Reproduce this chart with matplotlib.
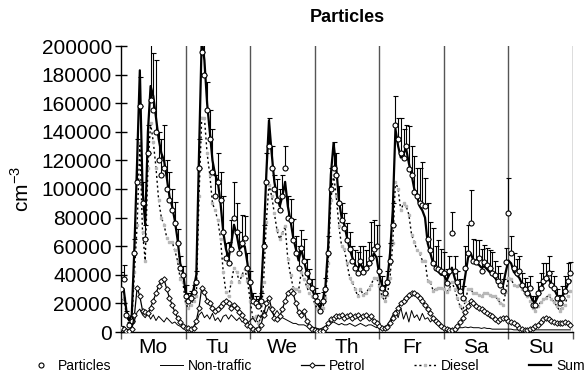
import matplotlib.pyplot as plt
import numpy as np

plt.rcParams['font.family'] = ['Liberation Sans', 'DejaVu Sans']

days = ['Mo', 'Tu', 'We', 'Th', 'Fr', 'Sa', 'Su']

# hourly values, one row per day (cm-3)
particles = [
    [30000, 37000, 12000, 5000, 8000, 55000, 105000, 158000, 90000, 65000, 125000, 162000, 155000, 140000, 120000, 110000, 115000, 100000, 92000, 85000, 76000, 62000, 45000, 40000],
    [25000, 22000, 24000, 28000, 35000, 115000, 196000, 180000, 155000, 135000, 112000, 95000, 105000, 92000, 70000, 52000, 48000, 58000, 80000, 70000, 55000, 62000, 66000, 45000],
    [35000, 22000, 20000, 18000, 22000, 60000, 105000, 130000, 115000, 100000, 92000, 85000, 95000, 115000, 80000, 78000, 64000, 55000, 45000, 59000, 50000, 41000, 36000, 31000],
    [25000, 22000, 15000, 22000, 30000, 55000, 100000, 115000, 110000, 90000, 78000, 73000, 64000, 58000, 50000, 45000, 41000, 50000, 42000, 45000, 48000, 52000, 58000, 60000],
    [43000, 31000, 27000, 35000, 50000, 75000, 145000, 135000, 125000, 122000, 130000, 114000, 110000, 98000, 95000, 90000, 89000, 88000, 65000, 57000, 48000, 45000, 44000, 43000],
    [41000, 34000, 43000, 69000, 43000, 35000, 29000, 24000, 45000, 55000, 76000, 50000, 49000, 52000, 43000, 49000, 47000, 45000, 41000, 40000, 36000, 33000, 29000, 49000],
    [83000, 55000, 45000, 41000, 43000, 33000, 30000, 27000, 31000, 19000, 19000, 27000, 31000, 36000, 38000, 41000, 33000, 31000, 24000, 20000, 24000, 29000, 36000, 41000],
]

particles_err = [
    [12000, 10000, 3000, 2000, 3000, 10000, 30000, 20000, 15000, 10000, 20000, 40000, 40000, 50000, 20000, 25000, 30000, 20000, 20000, 15000, 15000, 10000, 8000, 6000],
    [8000, 5000, 5000, 5000, 8000, 20000, 15000, 25000, 20000, 20000, 30000, 15000, 20000, 20000, 25000, 10000, 15000, 20000, 25000, 20000, 15000, 20000, 15000, 10000],
    [8000, 5000, 5000, 5000, 5000, 15000, 20000, 20000, 15000, 10000, 15000, 15000, 15000, 15000, 15000, 15000, 15000, 12000, 15000, 12000, 15000, 10000, 8000, 6000],
    [6000, 5000, 5000, 6000, 8000, 12000, 15000, 18000, 15000, 12000, 12000, 10000, 12000, 12000, 10000, 12000, 15000, 10000, 18000, 12000, 15000, 25000, 20000, 15000],
    [10000, 8000, 6000, 8000, 12000, 15000, 20000, 15000, 25000, 20000, 15000, 30000, 20000, 25000, 20000, 25000, 30000, 20000, 25000, 20000, 25000, 15000, 20000, 15000],
    [15000, 10000, 10000, 15000, 10000, 8000, 8000, 8000, 15000, 20000, 23000, 15000, 15000, 12000, 15000, 12000, 12000, 12000, 15000, 10000, 10000, 8000, 8000, 10000],
    [25000, 12000, 10000, 10000, 10000, 8000, 8000, 8000, 8000, 6000, 6000, 8000, 10000, 12000, 10000, 12000, 10000, 8000, 6000, 6000, 8000, 10000, 12000, 8000],
]

non_traffic = [
    [3000, 4000, 2000, 1500, 3000, 8000, 14000, 16000, 12000, 10000, 13000, 9000, 12000, 8000, 11000, 9000, 7000, 10000, 8000, 6000, 7000, 5000, 4000, 3000],
    [3000, 3000, 2500, 4000, 6000, 12000, 14000, 10000, 12000, 9000, 13000, 8000, 10000, 7000, 11000, 12000, 9000, 12000, 10000, 8000, 10000, 7000, 8000, 6000],
    [8000, 10000, 7000, 12000, 10000, 15000, 13000, 18000, 14000, 12000, 15000, 12000, 10000, 9000, 8000, 7000, 6000, 6000, 5000, 5000, 5000, 4000, 4000, 3500],
    [3000, 2500, 2000, 3000, 4000, 5000, 6000, 7000, 6000, 5000, 6000, 5000, 5000, 6000, 5000, 4000, 5000, 6000, 5000, 4000, 5000, 5000, 4000, 3000],
    [4000, 3000, 3000, 5000, 8000, 12000, 15000, 10000, 17000, 9000, 14000, 7000, 15000, 10000, 12000, 8000, 13000, 9000, 10000, 7000, 9000, 6000, 5000, 4000],
    [3000, 2500, 2000, 2000, 2000, 2500, 3000, 3000, 3500, 3000, 3500, 3000, 3000, 3000, 2500, 3000, 2500, 2500, 2000, 2000, 2000, 2000, 2000, 2000],
    [2000, 2000, 1500, 1500, 1500, 1500, 1500, 1500, 1500, 1500, 1500, 1500, 1500, 1500, 1500, 1500, 1500, 1500, 1500, 1500, 1500, 1500, 1500, 1500],
]

petrol = [
    [3000, 2000, 1000, 800, 2000, 12000, 31000, 25000, 15000, 14000, 13000, 17000, 22000, 27000, 32000, 36000, 37000, 30000, 24000, 19000, 14000, 10000, 7000, 4000],
    [3000, 2500, 2000, 3000, 8000, 17000, 31000, 28000, 22000, 20000, 17000, 15000, 16000, 18000, 20000, 22000, 20000, 17000, 19000, 17000, 14000, 12000, 8000, 5000],
    [4000, 2000, 1500, 2000, 5000, 12000, 20000, 24000, 16000, 10000, 9000, 11000, 16000, 22000, 27000, 29000, 27000, 20000, 14000, 12000, 15000, 8000, 4000, 2000],
    [1500, 800, 600, 1000, 3000, 6000, 9000, 10000, 11000, 11000, 12000, 10000, 11000, 12000, 10000, 11000, 12000, 10000, 11000, 12000, 10000, 11000, 8000, 6000],
    [4000, 3000, 2500, 3500, 6000, 10000, 13000, 17000, 20000, 22000, 24000, 26000, 27000, 27000, 26000, 24000, 22000, 19000, 16000, 13000, 10000, 8000, 6000, 4500],
    [3000, 2000, 1500, 1500, 2000, 4000, 7000, 10000, 14000, 18000, 22000, 20000, 18000, 17000, 16000, 15000, 13000, 12000, 11000, 9000, 8000, 9000, 10000, 10000],
    [8000, 7000, 6000, 5000, 3000, 2000, 1500, 1500, 2000, 3000, 4000, 5000, 7000, 9000, 10000, 9000, 8000, 7000, 6000, 6000, 6000, 7000, 6000, 5000],
]

diesel = [
    [22000, 24000, 12000, 6000, 7000, 42000, 75000, 132000, 70000, 50000, 115000, 146000, 133000, 115000, 92000, 80000, 75000, 66000, 63000, 63000, 57000, 50000, 37000, 35000],
    [20000, 17000, 19000, 22000, 25000, 95000, 150000, 150000, 125000, 110000, 90000, 85000, 78000, 65000, 42000, 28000, 25000, 35000, 45000, 42000, 35000, 40000, 44000, 36000],
    [22000, 10000, 11000, 6000, 10000, 35000, 77000, 103000, 95000, 83000, 71000, 65000, 69000, 74000, 51000, 40000, 31000, 30000, 29000, 42000, 37000, 32000, 27000, 25000],
    [20000, 16000, 14000, 17000, 24000, 48000, 92000, 110000, 95000, 74000, 60000, 58000, 48000, 38000, 35000, 30000, 25000, 30000, 26000, 27000, 30000, 33000, 38000, 38000],
    [32000, 25000, 22000, 26000, 38000, 62000, 105000, 100000, 85000, 90000, 88000, 82000, 68000, 63000, 57000, 55000, 50000, 50000, 36000, 35000, 29000, 30000, 31000, 31000],
    [30000, 28000, 30000, 35000, 30000, 24000, 18000, 15000, 22000, 30000, 30000, 27000, 27000, 26000, 25000, 27000, 27000, 26000, 25000, 25000, 23000, 20000, 19000, 28000],
    [38000, 37000, 33000, 32000, 33000, 30000, 27000, 25000, 22000, 17000, 15000, 18000, 21000, 23000, 24000, 26000, 23000, 21000, 18000, 15000, 17000, 19000, 25000, 29000],
]

total = [
    [28000, 30000, 15000, 8000, 12000, 60000, 120000, 183000, 100000, 75000, 140000, 172000, 165000, 150000, 135000, 125000, 120000, 108000, 95000, 88000, 78000, 65000, 48000, 42000],
    [28000, 24000, 25000, 30000, 40000, 125000, 205000, 190000, 160000, 140000, 120000, 110000, 105000, 90000, 70000, 58000, 52000, 62000, 75000, 68000, 58000, 60000, 60000, 48000],
    [33000, 22000, 20000, 20000, 25000, 62000, 110000, 148000, 125000, 105000, 95000, 88000, 95000, 105000, 88000, 78000, 66000, 58000, 50000, 58000, 50000, 42000, 36000, 30000],
    [25000, 20000, 17000, 22000, 32000, 60000, 110000, 132000, 115000, 92000, 80000, 75000, 66000, 58000, 52000, 47000, 44000, 48000, 44000, 45000, 46000, 50000, 55000, 52000],
    [40000, 33000, 30000, 36000, 55000, 85000, 142000, 130000, 122000, 125000, 128000, 118000, 110000, 100000, 95000, 88000, 85000, 80000, 62000, 55000, 48000, 45000, 42000, 40000],
    [40000, 36000, 40000, 45000, 38000, 32000, 28000, 28000, 40000, 52000, 55000, 50000, 48000, 47000, 45000, 46000, 44000, 42000, 40000, 38000, 35000, 32000, 33000, 42000],
    [50000, 48000, 42000, 40000, 38000, 34000, 30000, 28000, 26000, 22000, 21000, 25000, 30000, 34000, 36000, 37000, 33000, 30000, 26000, 23000, 25000, 28000, 33000, 36000],
]

hours = np.arange(24 * len(days))
p = np.concatenate(particles)
perr = np.concatenate(particles_err)
nt = np.concatenate(non_traffic)
pe = np.concatenate(petrol)
di = np.concatenate(diesel)
su = np.concatenate(total)

fig = plt.figure(figsize=(5.86, 3.82), dpi=100)
ax = fig.add_axes([121 / 586, 1 - 332 / 382, 452 / 586, 286 / 382])

# day separators
for d in range(1, len(days) + 1):
    ax.axvline(d * 24, color='#555555', lw=1, zorder=1)

ax.plot(hours, di, color='black', ls=(0, (1.5, 2)), lw=1, marker='s', ms=1.8,
        mfc='#b8b8b8', mec='#b8b8b8', label='Diesel', zorder=2)
ax.plot(hours, su, color='black', lw=1.6, label='Sum', zorder=3)
ax.errorbar(hours, p, yerr=[np.zeros_like(perr), perr], fmt='none', ecolor='black',
            elinewidth=0.8, capsize=1.8, capthick=0.8, zorder=3)
ax.plot(hours, p, ls='none', marker='o', ms=3.6, mfc='white', mec='black', mew=0.8,
        label='Particles', zorder=4)
ax.plot(hours, nt, color='black', lw=0.7, label='Non-traffic', zorder=4)
ax.plot(hours, pe, color='black', lw=0.9, marker='D', ms=2.8, mfc='white', mec='black',
        mew=0.7, label='Petrol', zorder=5)

ax.set_xlim(0, 24 * len(days))
ax.set_ylim(0, 200000)
ax.set_yticks(np.arange(0, 200001, 20000))
ax.tick_params(axis='y', direction='inout', length=9, width=1, labelsize=15, pad=2)
ax.set_xticks(np.arange(len(days)) * 24 + 12)
ax.set_xticklabels(days)
ax.tick_params(axis='x', length=0, labelsize=15, pad=4)
ax.set_xticks(np.arange(len(days) + 1) * 24, minor=True)
ax.tick_params(axis='x', which='minor', direction='out', length=5, width=1, color='#555555')
for s in ['top', 'right']:
    ax.spines[s].set_visible(False)
ax.spines['left'].set_linewidth(1)
ax.spines['bottom'].set_linewidth(1)
ax.set_ylabel('cm$^{\\mathregular{-3}}$', fontsize=15, labelpad=6)
ax.set_title('Particles', fontsize=13, fontweight='bold', pad=17)

h, l = ax.get_legend_handles_labels()
order = ['Particles', 'Non-traffic', 'Petrol', 'Diesel', 'Sum']
hs = [h[l.index(o)] for o in order]
fig.legend(hs, order, loc='center left', bbox_to_anchor=(30 / 586, 16 / 382), ncol=5,
           frameon=False, fontsize=10, handlelength=1.65, handletextpad=0.35,
           columnspacing=3.5, borderpad=0, borderaxespad=0)

fig.savefig('out.png', dpi=100)
